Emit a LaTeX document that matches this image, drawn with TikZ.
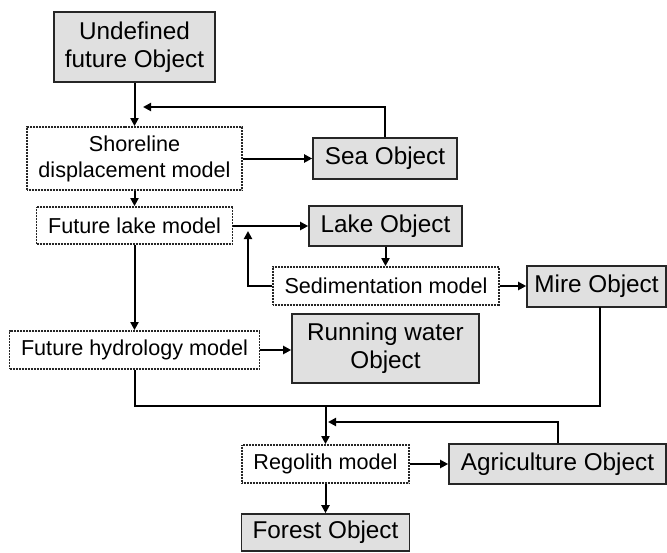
\documentclass[tikz,border=0pt]{standalone}
\usepackage{fontspec}
\setmainfont{Liberation Sans}
\usetikzlibrary{arrows.meta}
\definecolor{objfill}{RGB}{224,224,224}
\begin{document}
\begin{tikzpicture}[x=1pt,y=1pt,
  objbox/.style={draw=black!85, line width=1.6pt, fill=objfill, inner sep=0pt, align=center,
    font=\fontsize{24.3}{28}\selectfont},
  modbox/.style={draw=black!85, line width=1.8pt, dash pattern=on 1pt off 0.5pt, fill=white, inner sep=0pt, align=center,
    font=\fontsize{21.6}{26}\selectfont},
  conn/.style={line width=2pt, -{Triangle[length=8pt,width=8pt]}},
  plain/.style={line width=2pt}]
\useasboundingbox (0,0) rectangle (667,-552);
% nodes
\node[objbox, minimum width=161, minimum height=70] (undef) at (134.5,-47) {Undefined\\future Object};
\node[modbox, minimum width=215, minimum height=63] (shore) at (134.5,-158.5) {Shoreline\\displacement model};
\node[objbox, minimum width=144, minimum height=41] (sea) at (385,-158.5) {Sea Object};
\node[modbox, minimum width=196, minimum height=37] (flake) at (134.5,-225.5) {Future lake model};
\node[objbox, minimum width=153, minimum height=40] (lake) at (385.5,-226) {Lake Object};
\node[modbox, minimum width=226, minimum height=38] (sed) at (386,-286) {Sedimentation model};
\node[objbox, minimum width=139, minimum height=41] (mire) at (596.5,-286.5) {Mire Object};
\node[modbox, minimum width=250, minimum height=38] (hydro) at (134.5,-350) {Future hydrology model};
\node[objbox, minimum width=187, minimum height=69] (run) at (385.5,-348.5) {Running water\\Object};
\node[modbox, minimum width=167, minimum height=38] (rego) at (325.5,-464) {Regolith model};
\node[objbox, minimum width=217, minimum height=40] (agri) at (557.5,-464) {Agriculture Object};
\node[objbox, minimum width=168, minimum height=37] (forest) at (325.5,-532.5) {Forest Object};
% helper coordinates
\coordinate (seafb) at (143,-107);
\coordinate (sedfb) at (248,-231);
\coordinate (join) at (325.5,-406);
\coordinate (mireout) at (600,-307);
\coordinate (agrifb) at (328,-422);
% connectors
\draw[conn] (undef.south) -- (shore.north);
\draw[conn] (sea.north) |- (seafb);
\draw[conn] (shore.east |- sea.west) -- (sea.west);
\draw[conn] (shore.south) -- (flake.north);
\draw[conn] (flake.east |- lake.west) -- (lake.west);
\draw[conn] (lake.south) -- (lake.south |- sed.north);
\draw[conn] (sed.west) -| (sedfb);
\draw[conn] (sed.east) -- (sed.east -| mire.west);
\draw[conn] (flake.south) -- (hydro.north);
\draw[conn] (hydro.east) -- (hydro.east -| run.west);
\draw[plain] (hydro.south) |- (join);
\draw[plain] (mireout) |- (join);
\draw[conn] (join) -- (rego.north);
\draw[conn] (agri.north) |- (agrifb);
\draw[conn] (rego.east) -- (rego.east -| agri.west);
\draw[conn] (rego.south) -- (forest.north);
\end{tikzpicture}
\end{document}
